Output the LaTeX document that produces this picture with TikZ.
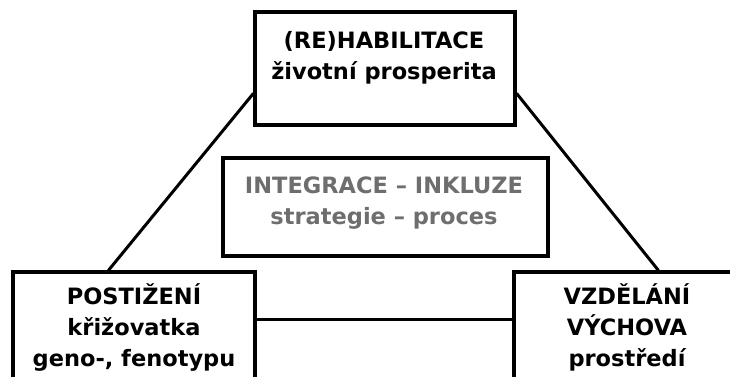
\documentclass[tikz,border=0pt]{standalone}
\usepackage{fontspec}
\setmainfont{DejaVu Sans}
\usetikzlibrary{calc}
\definecolor{midgray}{HTML}{6E6E6E}

\begin{document}
\begin{tikzpicture}[x=1pt,y=-1pt,
    box/.style={draw,line width=3.2pt,inner sep=0pt},
    txt/.style={align=center,inner sep=0pt,anchor=base,
      font=\fontsize{22.5}{31}\selectfont\bfseries},
    conn/.style={line width=3pt}]
  \useasboundingbox (0,0) rectangle (730,377);
  \clip (0,0) rectangle (730,377);
  % boxes
  \node[box,minimum width=260,minimum height=113] (reha) at (385,68.5) {};
  \node[box,minimum width=325,minimum height=98] (integ) at (385.5,207) {};
  \node[box,minimum width=242,minimum height=158] (post) at (134,351) {};
  \node[box,minimum width=266,minimum height=158] (vzd) at (647,351) {};
  % texts (anchor base = last line)
  \node[txt] (rehatxt) at (384,80) {(RE)HABILITACE\\životní prosperita};
  \node[txt,midgray] (integtxt) at (384,224) {INTEGRACE – INKLUZE\\strategie – proces};
  \node[txt] (posttxt) at (134,366) {POSTIŽENÍ\\křižovatka\\geno-, fenotypu};
  \node[txt] (vzdtxt) at (627,366) {VZDĚLÁNÍ\\VÝCHOVA\\prostředí};
  % connectors
  \coordinate (mid) at ($(post.north east)+(0,49)$);
  \draw[conn] ($(reha.north west)+(0,83)$) -- ($(post.north west)+(97,0)$);
  \draw[conn] ($(reha.north east)+(0,83)$) -- ($(vzd.north west)+(146,0)$);
  \draw[conn] (mid) -- (mid -| vzd.west);
\end{tikzpicture}
\end{document}
